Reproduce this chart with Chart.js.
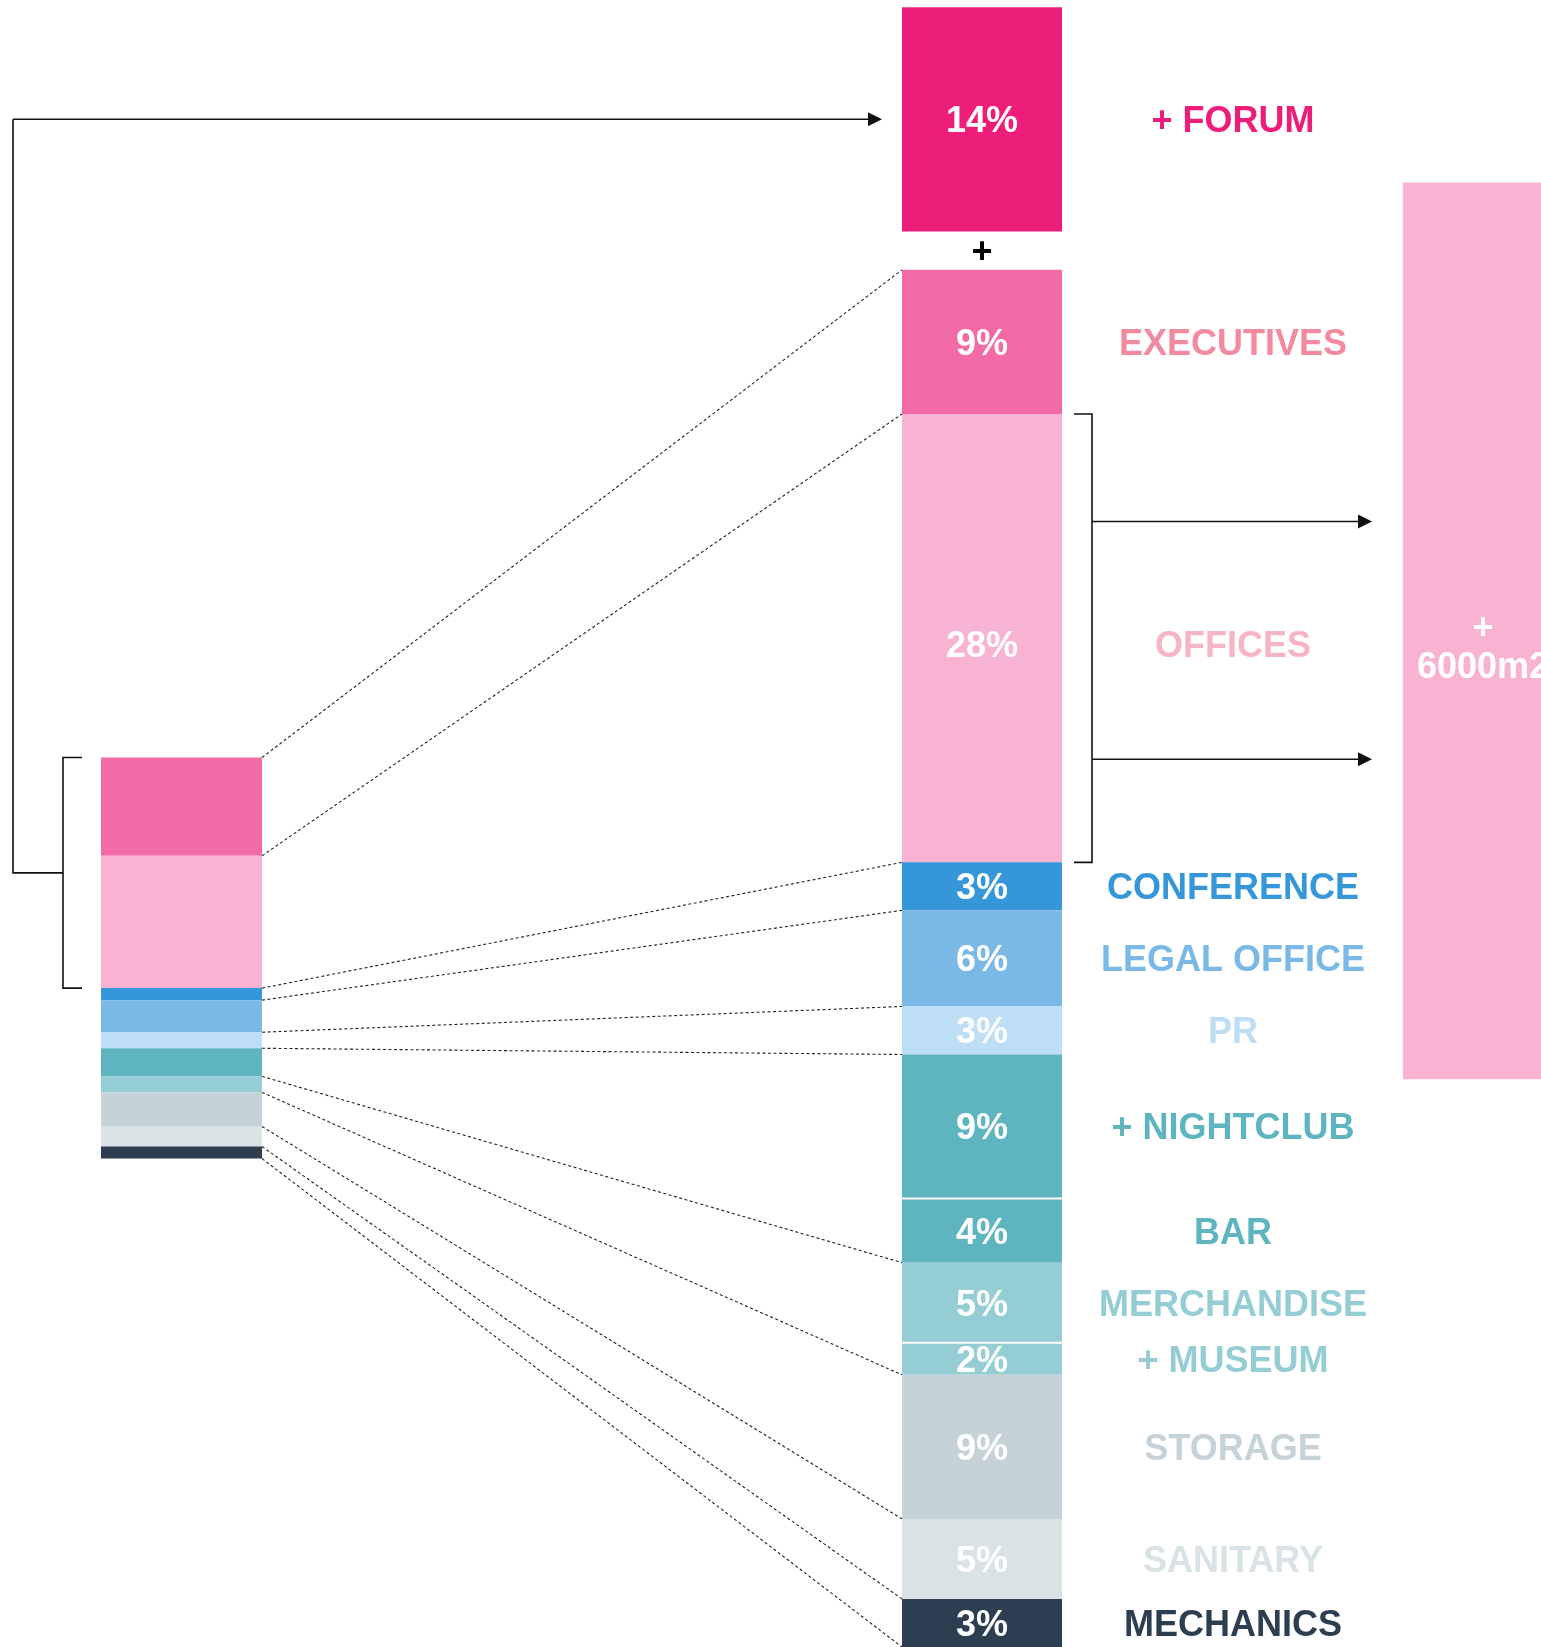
<!DOCTYPE html>
<html>
<head>
<meta charset="utf-8">
<title>Programme</title>
<script src="https://cdn.jsdelivr.net/npm/chart.js@4.4.1/dist/chart.umd.min.js"></script>
<style>
  html, body { margin: 0; padding: 0; background: #fff; }
  #wrap { width: 1541px; height: 1647px; overflow: hidden; }
</style>
</head>
<body>
<div id="wrap"><canvas id="chartProgramme" width="1541" height="1647"></canvas></div>
<script>
// new programme, top to bottom (% of total)
const programmeLabels = ['+ FORUM', 'EXECUTIVES', 'OFFICES', 'CONFERENCE', 'LEGAL OFFICE', 'PR',
  '+ NIGHTCLUB', 'BAR', 'MERCHANDISE', '+ MUSEUM', 'STORAGE', 'SANITARY', 'MECHANICS'];
const programmeShares = [14, 9, 28, 3, 6, 3, 9, 4, 5, 2, 9, 5, 3];

// existing building, top to bottom (% of total)
const existingLabels = ['EXECUTIVES', 'OFFICES', 'CONFERENCE', 'LEGAL OFFICE', 'PR',
  'NIGHTCLUB / BAR', 'MERCHANDISE / MUSEUM', 'STORAGE', 'SANITARY', 'MECHANICS'];
const existingShares = [24.5, 33, 3, 8, 4, 7, 4, 8.5, 5, 3];
// what each existing part turns into in the new programme
const existingTargets = [['EXECUTIVES'], ['OFFICES'], ['CONFERENCE'], ['LEGAL OFFICE'], ['PR'],
  ['+ NIGHTCLUB', 'BAR'], ['MERCHANDISE', '+ MUSEUM'], ['STORAGE'], ['SANITARY'], ['MECHANICS']];

// office extension: offices doubled
const extensionText = ['+', '6000m2'];
const extensionShare = 56;

// colours
const programmeColours = ['#ED1E79', '#F36BA6', '#F7B3D1', '#3597DA', '#7AB9E5', '#BDDEF5',
  '#5EB4BF', '#5EB4BF', '#95CDD5', '#95CDD5', '#C5D2D8', '#D9E2E5', '#2C3E50'];
const labelColours = ['#ED1E79', '#F28BA0', '#F7B5C4', '#3597DA', '#7AB9E5', '#BDDEF5',
  '#5EB4BF', '#5EB4BF', '#95CDD5', '#95CDD5', '#C5D2D8', '#D9E2E5', '#2C3E50'];
const existingColours = ['#F36BA6', '#F7B3D1', '#3597DA', '#7AB9E5', '#BDDEF5',
  '#5EB4BF', '#95CDD5', '#C5D2D8', '#D9E2E5', '#2C3E50'];
const extensionColour = '#F7B3D1';

// layout
const COL_EXISTING = 181.5, COL_PROGRAMME = 982, COL_EXTENSION = 1483;
const FORUM_GAP = 2.4;
const EXT_LIFT = 0.45;
const TEXT_DROP = 3;       // caps sit a touch below the box middle
const OFFICE_DROP = 6;     // the big office caption sits lower still
const FONT = 'bold 36px "Liberation Sans", Arial, Helvetica, sans-serif';

// stack values bottom-up, returning [start, end] per item (same order as input)
function stackRanges(values) {
  const out = new Array(values.length);
  let acc = 0;
  for (let i = values.length - 1; i >= 0; i--) {
    out[i] = [acc, acc + values[i]];
    acc += values[i];
  }
  return out;
}

const lowerRanges = stackRanges(programmeShares.slice(1));
const lowerTop = lowerRanges[0][1];
const forumRange = [lowerTop + FORUM_GAP, lowerTop + FORUM_GAP + programmeShares[0]];
const programmeRanges = [forumRange, ...lowerRanges];
const existingRanges = stackRanges(existingShares);

const officeIdx = programmeLabels.indexOf('OFFICES');
const officeMid = (programmeRanges[officeIdx][0] + programmeRanges[officeIdx][1]) / 2 + EXT_LIFT;
const extensionRange = [officeMid - extensionShare / 2, officeMid + extensionShare / 2];

function box(el) {
  const p = el.getProps(['x', 'y', 'base', 'width'], true);
  return {
    left: p.x - p.width / 2, right: p.x + p.width / 2,
    top: Math.min(p.y, p.base), bottom: Math.max(p.y, p.base),
    cx: p.x, cy: (p.y + p.base) / 2
  };
}

function line(ctx, x1, y1, x2, y2) {
  ctx.beginPath();
  ctx.moveTo(x1, y1);
  ctx.lineTo(x2, y2);
  ctx.stroke();
}

function arrow(ctx, x1, y, x2) {
  line(ctx, x1, y, x2 - 10, y);
  ctx.beginPath();
  ctx.moveTo(x2, y);
  ctx.lineTo(x2 - 14, y - 7);
  ctx.lineTo(x2 - 14, y + 7);
  ctx.closePath();
  ctx.fill();
}

// labels, connectors, brackets and arrows
const programmeDecor = {
  id: 'programmeDecor',
  afterDatasetsDraw(chart) {
    const ctx = chart.ctx;
    const prog = chart.getDatasetMeta(0).data.map(box);
    const old = chart.getDatasetMeta(1).data.map(box);
    const ext = chart.getDatasetMeta(2).data.map(box)[0];
    ctx.save();

    // white rule between neighbours of the same colour
    ctx.strokeStyle = '#fff';
    ctx.lineWidth = 2;
    for (let i = 1; i < prog.length; i++) {
      if (programmeColours[i] === programmeColours[i - 1]) {
        line(ctx, prog[i].left, prog[i].top, prog[i].right, prog[i].top);
      }
    }

    ctx.font = FONT;
    ctx.textAlign = 'center';
    ctx.textBaseline = 'middle';
    prog.forEach((b, i) => {
      const y = b.cy + TEXT_DROP + (i === officeIdx ? OFFICE_DROP : 0);
      ctx.fillStyle = '#fff';
      ctx.fillText(programmeShares[i] + '%', b.cx, y);
      ctx.fillStyle = labelColours[i];
      ctx.fillText(programmeLabels[i], b.right + 171, y);
    });

    ctx.fillStyle = '#fff';
    ctx.fillText(extensionText[0], ext.cx, ext.cy - 2);
    ctx.fillText(extensionText[1], ext.cx, ext.cy + 37);

    ctx.fillStyle = '#000';
    ctx.fillText('+', prog[0].cx, (prog[0].bottom + prog[1].top) / 2 + 2);

    // dotted links from the existing bar to the new one
    ctx.strokeStyle = '#222';
    ctx.lineWidth = 1.1;
    ctx.setLineDash([3, 2.5]);
    existingTargets.forEach((names, i) => {
      const first = programmeLabels.indexOf(names[0]);
      const last = programmeLabels.indexOf(names[names.length - 1]);
      if (i === 0) line(ctx, old[i].right, old[i].top, prog[first].left, prog[first].top);
      line(ctx, old[i].right, old[i].bottom, prog[last].left, prog[last].bottom);
    });
    ctx.setLineDash([]);

    ctx.strokeStyle = '#111';
    ctx.fillStyle = '#111';
    ctx.lineWidth = 1.6;

    // bracket round executives + offices, arrow up to the forum
    const bx = old[0].left - 38;
    const top = old[0].top, bottom = old[1].bottom, mid = (top + bottom) / 2;
    ctx.beginPath();
    ctx.moveTo(old[0].left - 19, top);
    ctx.lineTo(bx, top);
    ctx.lineTo(bx, bottom);
    ctx.lineTo(old[0].left - 19, bottom);
    ctx.stroke();
    const ox = old[0].left - 88;
    ctx.beginPath();
    ctx.moveTo(bx, mid);
    ctx.lineTo(ox, mid);
    ctx.lineTo(ox, prog[0].cy);
    ctx.stroke();
    arrow(ctx, ox, prog[0].cy, prog[0].left - 20);

    // bracket on offices, arrows to the extension
    const off = prog[officeIdx];
    const rx = off.right + 30;
    ctx.beginPath();
    ctx.moveTo(off.right + 12, off.top);
    ctx.lineTo(rx, off.top);
    ctx.lineTo(rx, off.bottom);
    ctx.lineTo(off.right + 12, off.bottom);
    ctx.stroke();
    const h = off.bottom - off.top;
    arrow(ctx, rx, off.top + h * 0.24, ext.left - 31);
    arrow(ctx, rx, off.top + h * 0.77, ext.left - 31);

    ctx.restore();
  }
};

new Chart(document.getElementById('chartProgramme'), {
  type: 'bar',
  data: {
    datasets: [
      {
        label: 'Programme',
        data: programmeRanges.map(r => ({ x: COL_PROGRAMME, y: r })),
        backgroundColor: programmeColours,
        grouped: false,
        maxBarThickness: 160
      },
      {
        label: 'Existing',
        data: existingRanges.map(r => ({ x: COL_EXISTING, y: r })),
        backgroundColor: existingColours,
        yAxisID: 'yMini',
        grouped: false,
        maxBarThickness: 161
      },
      {
        label: 'Office extension',
        data: [{ x: COL_EXTENSION, y: extensionRange }],
        backgroundColor: extensionColour,
        grouped: false,
        maxBarThickness: 160
      }
    ]
  },
  options: {
    responsive: false,
    animation: false,
    events: [],
    layout: { padding: 0 },
    plugins: { legend: { display: false }, tooltip: { enabled: false } },
    scales: {
      // one step across the whole width so bar sizing is not limited by tick spacing
      x: { type: 'linear', min: 0, max: 1541, offset: false, display: false, ticks: { stepSize: 1541 } },
      y: { type: 'linear', min: 0, max: 102.85, display: false },
      yMini: { type: 'linear', min: -121.8, max: 288.9, display: false }
    }
  },
  plugins: [programmeDecor]
});
</script>
</body>
</html>
